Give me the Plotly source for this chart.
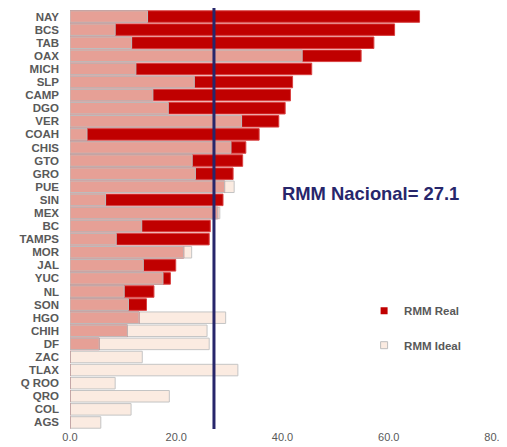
import plotly.graph_objects as go

states = ["NAY", "BCS", "TAB", "OAX", "MICH", "SLP", "CAMP", "DGO", "VER", "COAH",
          "CHIS", "GTO", "GRO", "PUE", "SIN", "MEX", "BC", "TAMPS", "MOR", "JAL",
          "YUC", "NL", "SON", "HGO", "CHIH", "DF", "ZAC", "TLAX", "Q ROO", "QRO",
          "COL", "AGS"]
rmm_real = [65.8, 61.1, 57.2, 54.8, 45.5, 41.9, 41.5, 40.5, 39.3, 35.6,
            33.1, 32.5, 30.7, 29.1, 28.8, 27.8, 26.4, 26.2, 21.4, 19.9,
            18.9, 15.8, 14.4, 13.0, 10.8, 5.5, 0, 0, 0, 0,
            0, 0]
rmm_ideal = [14.6, 8.5, 11.6, 43.7, 12.4, 23.4, 15.6, 18.5, 32.3, 3.2,
             30.3, 23.0, 23.6, 30.9, 6.7, 28.2, 13.5, 8.7, 22.9, 13.8,
             17.5, 10.2, 11.0, 29.3, 25.8, 26.2, 13.6, 31.6, 8.5, 18.7,
             11.5, 5.8]
rmm_nacional = 27.1
x_ticks = [0, 20, 40, 60, 80]

overlap = [min(r, i) for r, i in zip(rmm_real, rmm_ideal)]

RED = "#C00000"
IDEAL = "#FBEBE1"
OVER = "#E6A096"
NAVY = "#27266B"
GRAY_TXT = "#595959"

fig = go.Figure()
bw = 0.88
fig.add_trace(go.Bar(y=states, x=rmm_ideal, orientation="h", width=bw,
                     marker=dict(color=IDEAL, line=dict(color="#C4C4C4", width=1)),
                     showlegend=False, hoverinfo="x+y", name="RMM Ideal"))
fig.add_trace(go.Bar(y=states, x=rmm_real, orientation="h", width=bw,
                     marker=dict(color=RED, line=dict(color="#D84040", width=1)),
                     showlegend=False, hoverinfo="x+y", name="RMM Real"))
fig.add_trace(go.Bar(y=states, x=overlap, orientation="h", width=bw,
                     marker=dict(color=OVER, line=dict(color="#BDBDBD", width=1)),
                     showlegend=False, hoverinfo="skip"))

# legend entries
fig.add_trace(go.Scatter(x=[None], y=[None], mode="markers", name="<b>RMM Real</b>",
                         marker=dict(symbol="square", size=7, color=RED,
                                     line=dict(width=0)),
                         legend="legend"))
fig.add_trace(go.Scatter(x=[None], y=[None], mode="markers", name="<b>RMM Ideal</b>",
                         marker=dict(symbol="square", size=7, color=IDEAL,
                                     line=dict(color="#BDBDBD", width=1)),
                         legend="legend2"))

fig.add_shape(type="line", xref="x", yref="paper", x0=rmm_nacional, x1=rmm_nacional,
              y0=0, y1=1.01, line=dict(color=NAVY, width=3))

fig.add_annotation(x=0.494, y=0.563, xref="paper", yref="paper", xanchor="left",
                   yanchor="middle", showarrow=False,
                   text="<b>RMM Nacional= 27.1</b>",
                   font=dict(family="Liberation Sans, Arial", size=18.4, color=NAVY))

legend_style = dict(font=dict(family="Liberation Sans, Arial", size=11.5, color=GRAY_TXT),
                    bgcolor="rgba(0,0,0,0)", xanchor="left", yanchor="middle",
                    itemwidth=30)
# page body has an 8px margin: the figure is sized/margined to compensate
fig.update_layout(
    width=499, height=439,
    margin=dict(l=62, r=12, t=2, b=18, autoexpand=False),
    paper_bgcolor="white", plot_bgcolor="white",
    barmode="overlay",
    font=dict(family="Liberation Sans, Arial", color=GRAY_TXT),
    legend=dict(x=0.692, y=0.282, **legend_style),
    legend2=dict(x=0.692, y=0.200, **legend_style),
    xaxis=dict(range=[0, 80], tickvals=x_ticks, tickformat=".1f", automargin=False,
               showgrid=False, zeroline=False, showline=False, ticks="",
               ticklabeloverflow="allow",
               tickfont=dict(size=11, color=GRAY_TXT)),
    yaxis=dict(categoryorder="array", categoryarray=states, autorange="reversed",
               tickmode="array", tickvals=states, automargin=False,
               showgrid=False, zeroline=False, showline=False,
               ticks="", ticklabelstandoff=10,
               tickfont=dict(family="Liberation Sans, Arial", size=11.5, color=GRAY_TXT,
                             weight="bold")),
)
fig.write_html("out.html")
